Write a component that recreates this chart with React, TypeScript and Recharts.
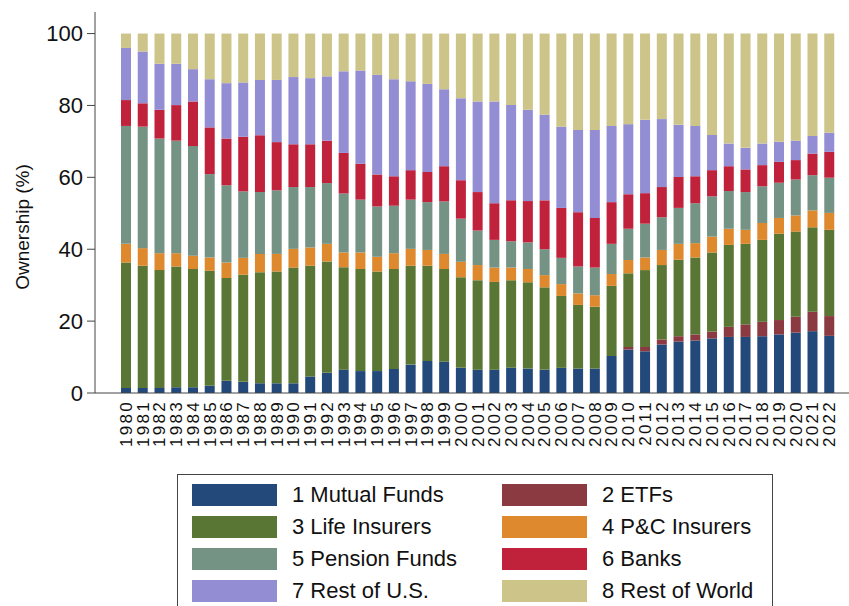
import React from 'react';
import { BarChart, Bar, XAxis, YAxis } from 'recharts';

const years = [
  '1980', '1981', '1982', '1983', '1984', '1985', '1986', '1987', '1988', '1989',
  '1990', '1991', '1992', '1993', '1994', '1995', '1996', '1997', '1998', '1999',
  '2000', '2001', '2002', '2003', '2004', '2005', '2006', '2007', '2008', '2009',
  '2010', '2011', '2012', '2013', '2014', '2015', '2016', '2017', '2018', '2019',
  '2020', '2021', '2022',
];

// ownership shares (%), one value per year
const mutualFunds = [
  1.4, 1.4, 1.4, 1.6, 1.6, 2.0, 3.4, 3.1, 2.7, 2.7,
  2.7, 4.6, 5.6, 6.5, 6.1, 6.1, 6.7, 7.9, 8.9, 8.7,
  7.0, 6.5, 6.5, 7.0, 6.8, 6.5, 7.0, 6.8, 6.8, 10.3,
  12.1, 11.6, 13.5, 14.3, 14.6, 15.2, 15.6, 15.6, 15.8, 16.3,
  16.8, 17.2, 15.9,
];
const etfs = [
  0, 0, 0, 0, 0, 0, 0, 0, 0, 0,
  0, 0, 0, 0, 0, 0, 0, 0, 0, 0,
  0, 0, 0, 0, 0, 0, 0, 0, 0, 0,
  0.7, 1.2, 1.4, 1.5, 1.7, 1.9, 2.8, 3.5, 4.0, 4.0,
  4.4, 5.4, 5.5,
];
const lifeInsurers = [
  34.9, 34.0, 32.8, 33.6, 32.9, 32.0, 28.6, 29.8, 30.9, 31.1,
  32.2, 30.8, 31.0, 28.5, 28.4, 27.7, 27.8, 27.5, 26.5, 25.8,
  25.2, 24.9, 24.4, 24.4, 24.0, 22.9, 20.0, 17.7, 17.2, 19.5,
  20.5, 21.4, 20.7, 21.3, 21.4, 22.0, 22.8, 22.4, 22.8, 24.0,
  23.7, 23.5, 24.0,
];
const pcInsurers = [
  5.2, 4.9, 4.7, 3.7, 3.7, 3.7, 4.3, 4.7, 5.1, 4.9,
  5.2, 5.1, 4.9, 4.1, 4.6, 4.1, 4.4, 4.7, 4.4, 4.2,
  4.3, 4.2, 4.0, 3.5, 3.7, 3.4, 3.3, 3.2, 3.2, 3.3,
  3.7, 3.5, 4.2, 4.4, 4.0, 4.4, 4.5, 3.9, 4.7, 4.4,
  4.5, 4.7, 4.7,
];
const pensionFunds = [
  32.8, 33.8, 31.9, 31.3, 30.5, 23.2, 21.5, 18.5, 17.2, 17.7,
  17.2, 16.8, 16.9, 16.4, 14.7, 14.0, 13.2, 13.7, 13.3, 14.6,
  12.0, 9.6, 7.7, 7.3, 7.4, 7.2, 7.3, 7.5, 7.7, 8.4,
  8.7, 9.4, 9.1, 10.0, 11.1, 11.2, 10.5, 10.5, 10.2, 9.8,
  10.0, 9.8, 9.8,
];
const banks = [
  7.2, 6.5, 8.0, 9.9, 12.4, 13.0, 13.0, 15.2, 15.8, 13.4,
  11.9, 11.9, 11.8, 11.3, 10.0, 8.9, 8.2, 8.2, 8.4, 9.8,
  10.7, 10.7, 10.2, 11.4, 11.5, 13.6, 13.9, 15.1, 13.8, 11.6,
  9.6, 8.5, 8.4, 8.6, 7.5, 7.3, 6.9, 6.3, 5.9, 5.8,
  5.4, 6.0, 7.2,
];
const restOfUS = [
  14.5, 14.4, 12.8, 11.5, 9.0, 13.4, 15.4, 15.1, 15.4, 17.3,
  18.7, 18.4, 17.9, 22.7, 25.9, 27.7, 27.0, 24.7, 24.5, 21.4,
  22.8, 25.2, 28.3, 26.5, 25.4, 23.8, 22.6, 22.9, 24.5, 21.2,
  19.5, 20.4, 18.9, 14.5, 14.0, 9.8, 6.3, 6.0, 6.0, 5.6,
  5.4, 4.9, 5.3,
];
const restOfWorld = [
  4.0, 5.0, 8.4, 8.4, 9.9, 12.7, 13.8, 13.6, 12.9, 12.9,
  12.1, 12.4, 11.9, 10.5, 10.3, 11.5, 12.7, 13.3, 14.0, 15.5,
  18.0, 18.9, 18.9, 19.9, 21.2, 22.6, 25.9, 26.8, 26.8, 25.7,
  25.2, 24.0, 23.8, 25.4, 25.7, 28.2, 30.6, 31.8, 30.6, 30.1,
  29.8, 28.5, 27.6,
];

const yTicks = [0, 20, 40, 60, 80, 100];

const series = [
  { key: 'mf', name: '1 Mutual Funds', values: mutualFunds, color: '#22497a' },
  { key: 'etf', name: '2 ETFs', values: etfs, color: '#8a3a40' },
  { key: 'life', name: '3 Life Insurers', values: lifeInsurers, color: '#5a7634' },
  { key: 'pc', name: '4 P&C Insurers', values: pcInsurers, color: '#df892f' },
  { key: 'pension', name: '5 Pension Funds', values: pensionFunds, color: '#749385' },
  { key: 'banks', name: '6 Banks', values: banks, color: '#c0213b' },
  { key: 'restUS', name: '7 Rest of U.S.', values: restOfUS, color: '#938dd4' },
  { key: 'restWorld', name: '8 Rest of World', values: restOfWorld, color: '#ccc489' },
];

const data = years.map((year, i) => {
  const row: Record<string, string | number> = { year };
  series.forEach((s) => {
    row[s.key] = s.values[i];
  });
  return row;
});

const font = '"Liberation Sans", Arial, Helvetica, sans-serif';

const YearTick = ({ x, y, payload }: any) => (
  <text
    x={x}
    y={y}
    transform={`rotate(-90 ${x} ${y})`}
    textAnchor="end"
    dominantBaseline="central"
    fontSize={17}
    letterSpacing={2.3}
    fontFamily={font}
    fill="#111"
  >
    {payload.value}
  </text>
);

const YTitle = () => (
  <text
    x={22}
    y={227}
    transform="rotate(-90 22 227)"
    textAnchor="middle"
    dominantBaseline="central"
    fontSize={19}
    fontFamily={font}
    fill="#111"
  >
    Ownership (%)
  </text>
);

// legend order in the reference: odd numbers left column, even numbers right
const legendRows = [
  [series[0], series[1]],
  [series[2], series[3]],
  [series[4], series[5]],
  [series[6], series[7]],
];

export default function App() {
  return (
    <div style={{ position: 'absolute', left: 0, top: 0, width: 849, height: 606, background: '#fff', overflow: 'hidden' }}>
      <BarChart
        width={849}
        height={606}
        data={data}
        margin={{ top: 12, right: 0, left: 0, bottom: 153 }}
        barCategoryGap={0}
      >
        <XAxis
          dataKey="year"
          interval={0}
          height={60}
          tickLine={false}
          tickSize={0}
          tickMargin={7}
          tick={<YearTick />}
          axisLine={{ stroke: '#444' }}
          padding={{ left: 23, right: 11 }}
        />
        <YAxis
          width={95}
          domain={[0, 106]}
          ticks={yTicks}
          allowDataOverflow
          tickSize={8}
          tickMargin={4}
          tickLine={{ stroke: '#444' }}
          axisLine={{ stroke: '#444' }}
          tick={{ fontSize: 22, fill: '#111', fontFamily: font }}
          label={<YTitle />}
        />
        {series.map((s) => (
          <Bar
            key={s.key}
            dataKey={s.key}
            name={s.name}
            stackId="own"
            fill={s.color}
            barSize={10}
            isAnimationActive={false}
          />
        ))}
      </BarChart>
      <div
        style={{
          position: 'absolute',
          left: 177,
          top: 474,
          width: 596,
          height: 150,
          border: '1px solid #444',
          boxSizing: 'border-box',
          fontFamily: font,
          fontSize: 22,
          color: '#111',
        }}
      >
        {legendRows.map((row, r) =>
          row.map((s, c) => (
            <div
              key={s.key}
              style={{
                position: 'absolute',
                left: 14 + c * 310,
                top: 9 + r * 32,
                display: 'flex',
                alignItems: 'center',
                height: 22,
                whiteSpace: 'nowrap',
              }}
            >
              <div style={{ width: 85, height: 22, background: s.color }} />
              <span style={{ marginLeft: 15, lineHeight: '22px' }}>{s.name}</span>
            </div>
          ))
        )}
      </div>
    </div>
  );
}
